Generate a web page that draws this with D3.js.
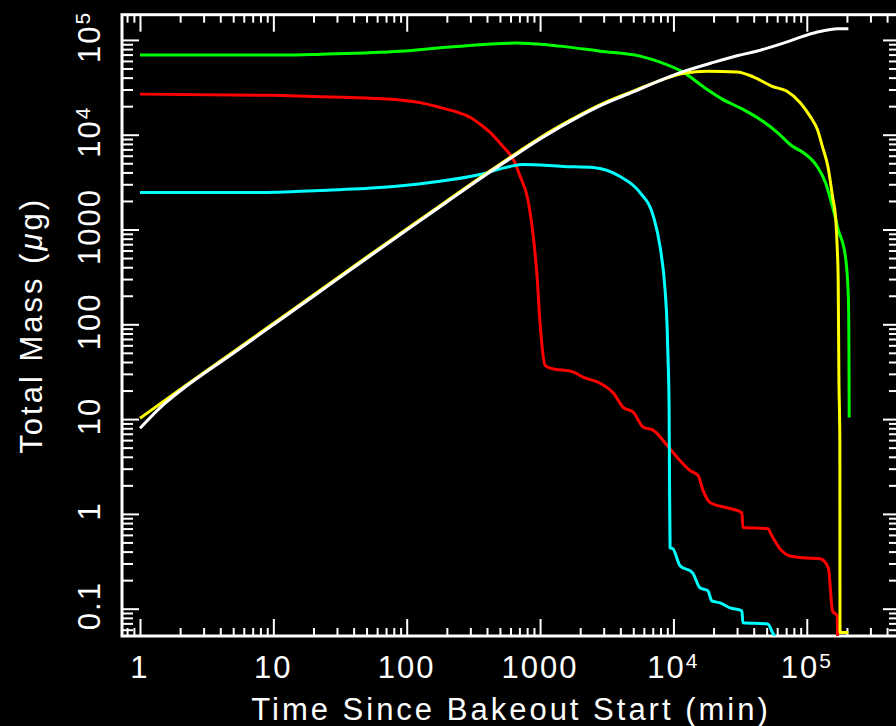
<!DOCTYPE html>
<html>
<head>
<meta charset="utf-8">
<script src="https://cdn.jsdelivr.net/npm/d3@7"></script>
<style>
  body { margin: 0; background: #000; }
  svg { display: block; background: #000; }
  text { font-family: "Liberation Sans", Arial, sans-serif; fill: #fff; }
</style>
</head>
<body>
<svg id="chart" width="896" height="726"></svg>
<script>
// curves: [time (min), total mass (ug)]
var greenCurve = [[1, 69200], [11.8, 69200], [23, 70800], [89, 76000], [211, 84000], [650, 92600],
  [1410, 86000], [2820, 76000], [5620, 67400], [7940, 58200], [11800, 45700], [17800, 30200],
  [23400, 23600], [33000, 18600], [44700, 14500], [60000, 10600], [77600, 7600], [93800, 6500],
  [120000, 4600], [138000, 3140], [156000, 1740], [172000, 1000], [195000, 515], [205000, 194],
  [207000, 58], [208000, 10.4]];

var redCurve = [[1, 26800], [9.9, 26000], [32.6, 24800], [53, 24300], [89, 23300], [126, 21800],
  [178, 19400], [230, 17600], [300, 15200], [355, 12900], [422, 10600], [527, 7500], [630, 5470],
  [710, 3620], [810, 2070], [890, 840], [950, 316], [1000, 103], [1090, 37], [1190, 34.5],
  [1780, 31.3], [2100, 27.7], [2820, 23.9], [3540, 18.8], [4200, 13.3], [5000, 11.8], [5950, 8.2],
  [7080, 7.6], [8950, 5.3], [11200, 3.66], [13300, 2.87], [15300, 2.54], [16700, 1.76],
  [18800, 1.32], [26600, 1.14], [32600, 1.03], [33200, 0.72], [51000, 0.70], [54600, 0.59],
  [62800, 0.43], [74900, 0.36], [93800, 0.345], [126000, 0.336], [145000, 0.27], [156000, 0.095],
  [169000, 0.084], [171000, 0.02]];

var cyanCurve = [[1, 2450], [6.7, 2450], [22.4, 2580], [63, 2770], [150, 3130], [355, 3800],
  [596, 4630], [750, 4850], [1500, 4630], [2500, 4510], [3980, 3620], [5620, 2450], [7080, 1370],
  [7940, 660], [8660, 230], [8950, 103], [9110, 44.6], [9280, 13.3], [9350, 2.25], [9440, 0.44],
  [9900, 0.43], [11200, 0.284], [13900, 0.24], [15800, 0.166], [18100, 0.155], [19400, 0.121],
  [22400, 0.115], [26600, 0.102], [32600, 0.095], [33200, 0.071], [51000, 0.069], [55700, 0.055],
  [61000, 0.045]];

var yellowCurve = [[1, 10.2], [2, 20.5], [5, 51], [10, 102], [20, 204], [50, 510], [100, 1010],
  [200, 2000], [400, 3950], [700, 6700], [1000, 9300], [2000, 16200], [3000, 21500], [5000, 28800],
  [8000, 37500], [12000, 44500], [18000, 46800], [30000, 46000], [40000, 40600], [55000, 32400],
  [71000, 28700], [89000, 21900], [106000, 15600], [120000, 11400], [131000, 7500], [144000, 4620],
  [156000, 2220], [165000, 1260], [169000, 657], [172000, 293], [174000, 30], [177000, 5.9],
  [177500, 0.056], [205000, 0.056]];

var whiteCurve = [[1, 8.0], [1.5, 14.2], [2, 19.8], [5, 49.5], [10, 99], [20, 198], [50, 495],
  [100, 985], [200, 1950], [400, 3850], [700, 6500], [1000, 9000], [2000, 15800], [3000, 21000],
  [5000, 28300], [8000, 37500], [12000, 46500], [20000, 58000], [30000, 68000], [42000, 76000],
  [60000, 88000], [75000, 97600], [90000, 107000], [120000, 121000], [150000, 129000],
  [170000, 131000], [205000, 131000]];

var xTickValues = [1, 10, 100, 1000, 1e4, 1e5];
var xTickLabels = ["1", "10", "100", "1000", "10^4", "10^5"];
var yTickValues = [0.1, 1, 10, 100, 1000, 1e4, 1e5];
var yTickLabels = ["0.1", "1", "10", "100", "1000", "10^4", "10^5"];

// plot box, the right edge sits just outside the picture
var plot = {left: 122, right: 900, top: 14.7, bottom: 636};

var svg = d3.select("#chart");

var x = d3.scaleLog()
    .domain([0.733, 5e5])
    .range([plot.left, plot.right]);

var y = d3.scaleLog()
    .domain([0.0515, 1.845e5])
    .range([plot.bottom, plot.top]);

// ticks: majors are the decades, minors the rest
function isDecade(d) {
  var l = Math.log10(d);
  return Math.abs(l - Math.round(l)) < 1e-6;
}
function inside(scale) {
  var dom = scale.domain();
  return function(d) { return d >= dom[0] && d <= dom[1]; };
}
var xAll = x.ticks().filter(inside(x));
var yAll = y.ticks().filter(inside(y));
var xMajor = xAll.filter(isDecade), xMinor = xAll.filter(function(d) { return !isDecade(d); });
var yMajor = yAll.filter(isDecade), yMinor = yAll.filter(function(d) { return !isDecade(d); });

function tickAxis(g) {
  g.select(".domain").remove();
  g.selectAll("line").attr("stroke", "#fff").attr("stroke-width", 2);
}

// bottom + top
[[plot.bottom, d3.axisBottom], [plot.top, d3.axisTop]].forEach(function(s) {
  svg.append("g").attr("transform", "translate(0," + s[0] + ")")
    .call(s[1](x).tickValues(xMinor).tickSize(-8).tickFormat(""))
    .call(tickAxis);
  svg.append("g").attr("transform", "translate(0," + s[0] + ")")
    .call(s[1](x).tickValues(xMajor).tickSize(-17).tickFormat(""))
    .call(tickAxis);
});

// left + right
[[plot.left, d3.axisLeft], [plot.right, d3.axisRight]].forEach(function(s) {
  svg.append("g").attr("transform", "translate(" + s[0] + ",0)")
    .call(s[1](y).tickValues(yMinor).tickSize(-11).tickFormat(""))
    .call(tickAxis);
  svg.append("g").attr("transform", "translate(" + s[0] + ",0)")
    .call(s[1](y).tickValues(yMajor).tickSize(-17).tickFormat(""))
    .call(tickAxis);
});

// frame
svg.append("rect")
  .attr("x", plot.left)
  .attr("y", plot.top)
  .attr("width", plot.right - plot.left)
  .attr("height", plot.bottom - plot.top)
  .attr("fill", "none")
  .attr("stroke", "#fff")
  .attr("stroke-width", 3);

// label with a raised exponent, "10^4"
function writeLabel(sel, label) {
  var parts = label.split("^");
  sel.append("tspan").text(parts[0]);
  if (parts.length > 1) {
    sel.append("tspan")
      .attr("dy", -10)
      .attr("font-size", 21)
      .text(parts[1]);
  }
}

svg.append("g")
  .selectAll("text")
  .data(xTickValues)
  .enter().append("text")
    .attr("x", function(d) { return x(d); })
    .attr("y", 678)
    .attr("text-anchor", "middle")
    .attr("font-size", 31)
    .attr("letter-spacing", 2)
    .each(function(d, i) { writeLabel(d3.select(this), xTickLabels[i]); });

svg.append("g")
  .selectAll("text")
  .data(yTickValues)
  .enter().append("text")
    .attr("transform", function(d) { return "translate(100," + (y(d) - 3) + ") rotate(-90)"; })
    .attr("text-anchor", "middle")
    .attr("font-size", 31)
    .attr("letter-spacing", 2)
    .each(function(d, i) { writeLabel(d3.select(this), yTickLabels[i]); });

// axis titles
svg.append("text")
  .attr("x", (plot.left + plot.right) / 2)
  .attr("y", 720)
  .attr("text-anchor", "middle")
  .attr("font-size", 31)
  .attr("letter-spacing", 3)
  .text("Time Since Bakeout Start (min)");

var yTitle = svg.append("text")
  .attr("transform", "translate(42," + ((plot.top + plot.bottom) / 2) + ") rotate(-90)")
  .attr("text-anchor", "middle")
  .attr("font-size", 31)
  .attr("letter-spacing", 3);
yTitle.append("tspan").text("Total Mass (");
yTitle.append("tspan").attr("font-style", "italic").text("\u03bc");
yTitle.append("tspan").text("g)");

// curves
svg.append("clipPath").attr("id", "plotClip")
  .append("rect")
  .attr("x", plot.left)
  .attr("y", plot.top)
  .attr("width", plot.right - plot.left)
  .attr("height", plot.bottom - plot.top);

var line = d3.line()
  .curve(d3.curveMonotoneX)
  .x(function(d) { return x(d[0]); })
  .y(function(d) { return y(d[1]); });

var curves = [
  {data: redCurve, color: "#ff0000"},
  {data: cyanCurve, color: "#00ffff"},
  {data: greenCurve, color: "#00ff00"},
  {data: yellowCurve, color: "#ffff00"},
  {data: whiteCurve, color: "#ffffff"}
];

svg.append("g")
  .attr("clip-path", "url(#plotClip)")
  .selectAll("path")
  .data(curves)
  .enter().append("path")
    .attr("d", function(d) { return line(d.data); })
    .attr("fill", "none")
    .attr("stroke", function(d) { return d.color; })
    .attr("stroke-width", 3)
    .attr("stroke-linejoin", "round");
</script>
</body>
</html>
